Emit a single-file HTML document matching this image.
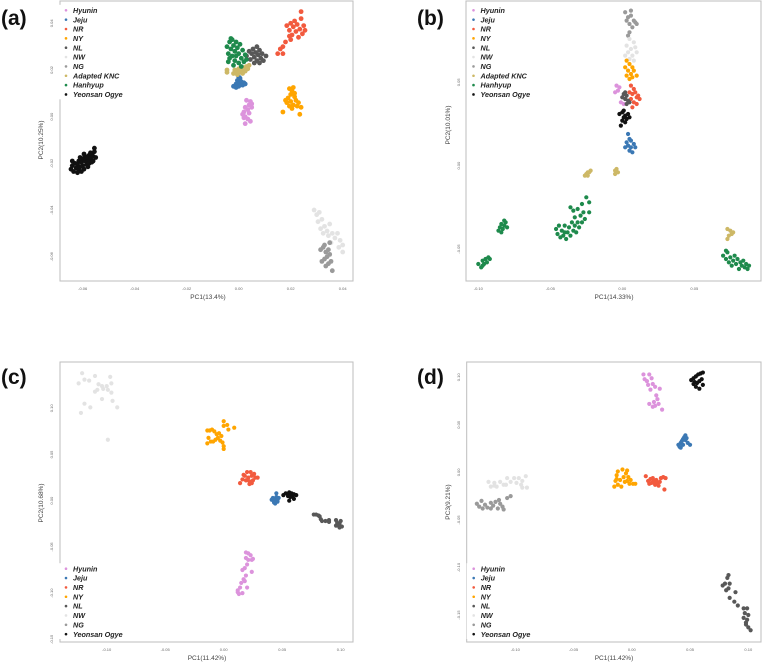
<!DOCTYPE html>
<html><head><meta charset="utf-8"><style>
html,body{margin:0;padding:0;background:#fff;}
svg{display:block;font-family:"Liberation Sans",sans-serif;}
</style></head><body>
<svg id="fig" width="762" height="662" viewBox="0 0 762 662"></svg>
<script>
// ---------- DATA ----------
const groupNames = ["Hyunin","Jeju","NR","NY","NL","NW","NG","Adapted KNC","Hanhyup","Yeonsan Ogye"];
const groupColors = {"Hyunin":"#dc93dc","Jeju":"#3b78b4","NR":"#f25a3e","NY":"#ffa500","NL":"#585858","NW":"#e3e3e3","NG":"#9a9a9a","Adapted KNC":"#cdb866","Hanhyup":"#1e8a4c","Yeonsan Ogye":"#111111"};

const aXTicks = [-0.06,-0.04,-0.02,0,0.02,0.04];
const aXTickLabels = ["-0.06","-0.04","-0.02","0.00","0.02","0.04"];
const aYTicks = [0.04,0.02,0,-0.02,-0.04,-0.06];
const aYTickLabels = ["0.04","0.02","0.00","-0.02","-0.04","-0.06"];
const a_Yeonsan = [[-0.0645,-0.0225],[-0.0640,-0.0210],[-0.0635,-0.0235],[-0.0630,-0.0200],[-0.0625,-0.0220],[-0.0620,-0.0205],[-0.0615,-0.0190],[-0.0615,-0.0230],[-0.0610,-0.0215],[-0.0605,-0.0195],[-0.0600,-0.0180],[-0.0600,-0.0210],[-0.0595,-0.0225],[-0.0590,-0.0190],[-0.0590,-0.0170],[-0.0585,-0.0205],[-0.0580,-0.0185],[-0.0575,-0.0165],[-0.0575,-0.0200],[-0.0570,-0.0180],[-0.0565,-0.0160],[-0.0560,-0.0190],[-0.0560,-0.0170],[-0.0555,-0.0150],[-0.0550,-0.0175],[-0.0555,-0.0135],[-0.0620,-0.0240],[-0.0605,-0.0235],[-0.0585,-0.0175],[-0.0570,-0.0155],[-0.0610,-0.0175],[-0.0595,-0.0160],[-0.0580,-0.0215],[-0.0565,-0.0195],[-0.0640,-0.0190]];
const a_Hanhyup = [[-0.0045,0.0300],[-0.0040,0.0270],[-0.0035,0.0320],[-0.0035,0.0250],[-0.0030,0.0290],[-0.0025,0.0330],[-0.0025,0.0260],[-0.0020,0.0305],[-0.0015,0.0280],[-0.0015,0.0240],[-0.0010,0.0320],[-0.0010,0.0260],[-0.0005,0.0295],[0.0000,0.0230],[0.0000,0.0270],[0.0005,0.0310],[0.0010,0.0250],[0.0015,0.0285],[0.0020,0.0235],[0.0025,0.0265],[-0.0040,0.0235],[-0.0020,0.0220],[0.0010,0.0215],[-0.0030,0.0335],[0.0030,0.0245]];
const a_NL = [[0.0030,0.0260],[0.0040,0.0280],[0.0045,0.0245],[0.0050,0.0270],[0.0055,0.0290],[0.0060,0.0255],[0.0065,0.0275],[0.0070,0.0300],[0.0070,0.0240],[0.0075,0.0265],[0.0080,0.0285],[0.0085,0.0250],[0.0090,0.0270],[0.0095,0.0240],[0.0105,0.0260],[0.0060,0.0230],[0.0080,0.0230]];
const a_KNC = [[-0.0045,0.0200],[-0.0045,0.0190],[-0.0020,0.0185],[-0.0015,0.0200],[-0.0010,0.0190],[0.0000,0.0205],[0.0005,0.0190],[0.0010,0.0200],[0.0020,0.0210],[0.0025,0.0195],[0.0030,0.0215],[0.0035,0.0205],[0.0040,0.0220],[-0.0005,0.0180],[0.0015,0.0185]];
const a_Jeju = [[-0.0020,0.0130],[-0.0010,0.0140],[-0.0005,0.0155],[0.0000,0.0130],[0.0005,0.0165],[0.0005,0.0145],[0.0010,0.0150],[0.0015,0.0135],[0.0020,0.0145],[-0.0010,0.0125],[0.0000,0.0170],[0.0025,0.0140]];
const a_Hyunin = [[0.0030,0.0070],[0.0045,0.0065],[0.0040,0.0050],[0.0025,0.0040],[0.0050,0.0040],[0.0035,0.0030],[0.0020,0.0020],[0.0040,0.0015],[0.0025,0.0000],[0.0035,-0.0010],[0.0020,-0.0005],[0.0045,-0.0020],[0.0025,-0.0030],[0.0050,0.0055],[0.0015,0.0010]];
const a_NR = [[0.0185,0.0390],[0.0195,0.0370],[0.0200,0.0400],[0.0205,0.0350],[0.0210,0.0385],[0.0215,0.0410],[0.0220,0.0365],[0.0225,0.0395],[0.0230,0.0340],[0.0235,0.0375],[0.0240,0.0420],[0.0245,0.0355],[0.0250,0.0390],[0.0255,0.0370],[0.0240,0.0450],[0.0200,0.0330],[0.0180,0.0320],[0.0170,0.0300],[0.0160,0.0290],[0.0150,0.0270],[0.0170,0.0270],[0.0195,0.0345]];
const a_NY = [[0.0195,0.0120],[0.0205,0.0110],[0.0210,0.0125],[0.0200,0.0095],[0.0190,0.0080],[0.0215,0.0085],[0.0220,0.0070],[0.0185,0.0060],[0.0200,0.0065],[0.0230,0.0060],[0.0210,0.0050],[0.0195,0.0045],[0.0225,0.0045],[0.0240,0.0040],[0.0180,0.0070],[0.0170,0.0020],[0.0235,0.0010],[0.0205,0.0035],[0.0215,0.0100]];
const a_NW = [[0.0290,-0.0400],[0.0300,-0.0420],[0.0310,-0.0410],[0.0305,-0.0450],[0.0320,-0.0440],[0.0330,-0.0470],[0.0315,-0.0480],[0.0340,-0.0490],[0.0350,-0.0460],[0.0360,-0.0500],[0.0345,-0.0510],[0.0370,-0.0520],[0.0380,-0.0500],[0.0390,-0.0530],[0.0400,-0.0550],[0.0385,-0.0560],[0.0355,-0.0540],[0.0400,-0.0580],[0.0325,-0.0500]];
const a_NG = [[0.0315,-0.0570],[0.0325,-0.0560],[0.0335,-0.0580],[0.0330,-0.0550],[0.0345,-0.0570],[0.0340,-0.0600],[0.0330,-0.0610],[0.0350,-0.0590],[0.0345,-0.0630],[0.0335,-0.0640],[0.0355,-0.0620],[0.0360,-0.0660],[0.0320,-0.0620],[0.0350,-0.0540]];

const bXTicks = [-0.10,-0.05,0,0.05];
const bXTickLabels = ["-0.10","-0.05","0.00","0.05"];
const bYTicks = [0.05,0,-0.05];
const bYTickLabels = ["0.05","0.00","-0.05"];
const b_NG = [[0.002,0.092],[0.004,0.089],[0.006,0.090],[0.008,0.087],[0.005,0.085],[0.010,0.085],[0.003,0.087],[0.007,0.083],[0.009,0.086],[0.006,0.093],[0.005,0.080],[0.004,0.078]];
const b_NW = [[0.005,0.076],[0.008,0.074],[0.003,0.072],[0.006,0.070],[0.009,0.071],[0.004,0.068],[0.007,0.066],[0.010,0.068],[0.005,0.064],[0.008,0.063],[0.002,0.066]];
const b_NY = [[0.003,0.063],[0.005,0.061],[0.007,0.059],[0.004,0.057],[0.006,0.055],[0.008,0.057],[0.003,0.054],[0.005,0.052],[0.010,0.054],[0.002,0.059],[0.007,0.053]];
const b_Hyunin = [[-0.004,0.048],[-0.003,0.045],[-0.005,0.044],[-0.002,0.047],[0.000,0.041],[-0.001,0.038],[0.001,0.037]];
const b_NR = [[0.006,0.048],[0.008,0.046],[0.007,0.043],[0.009,0.044],[0.010,0.041],[0.011,0.042],[0.006,0.040],[0.008,0.038],[0.010,0.037],[0.007,0.035],[0.005,0.044],[0.012,0.040]];
const b_NL = [[0.001,0.043],[0.003,0.042],[0.002,0.040],[0.004,0.039],[0.000,0.041],[0.005,0.038],[0.003,0.037],[0.002,0.044]];
const b_Yeonsan = [[-0.002,0.031],[0.000,0.032],[0.002,0.030],[0.004,0.031],[0.001,0.029],[0.003,0.028],[0.005,0.029],[0.000,0.027],[0.002,0.026],[-0.001,0.024],[0.001,0.033]];
const b_Jeju = [[0.004,0.019],[0.005,0.016],[0.003,0.014],[0.006,0.015],[0.008,0.013],[0.004,0.012],[0.006,0.011],[0.009,0.011],[0.005,0.009],[0.007,0.008],[0.002,0.011]];
const b_KNC = [[-0.026,-0.006],[-0.025,-0.005],[-0.024,-0.004],[-0.023,-0.004],[-0.022,-0.003],[-0.024,-0.006],[-0.005,-0.003],[-0.004,-0.002],[-0.003,-0.004],[-0.005,-0.005],[-0.004,-0.004],[0.073,-0.038],[0.075,-0.039],[0.076,-0.041],[0.074,-0.042],[0.077,-0.040],[0.073,-0.044]];
const b_Hanhyup = [[-0.100,-0.059],[-0.098,-0.061],[-0.097,-0.057],[-0.096,-0.059],[-0.095,-0.056],[-0.094,-0.058],[-0.093,-0.055],[-0.097,-0.060],[-0.092,-0.056],[-0.086,-0.039],[-0.085,-0.037],[-0.084,-0.035],[-0.083,-0.038],[-0.082,-0.036],[-0.081,-0.034],[-0.080,-0.037],[-0.084,-0.040],[-0.082,-0.033],[-0.046,-0.038],[-0.045,-0.041],[-0.043,-0.043],[-0.042,-0.039],[-0.041,-0.042],[-0.040,-0.036],[-0.039,-0.044],[-0.038,-0.040],[-0.037,-0.037],[-0.036,-0.042],[-0.035,-0.034],[-0.034,-0.039],[-0.033,-0.036],[-0.033,-0.031],[-0.032,-0.040],[-0.031,-0.034],[-0.030,-0.037],[-0.029,-0.030],[-0.028,-0.034],[-0.027,-0.028],[-0.026,-0.032],[-0.034,-0.027],[-0.036,-0.025],[-0.031,-0.026],[-0.028,-0.023],[-0.025,-0.019],[-0.023,-0.022],[-0.023,-0.028],[-0.044,-0.036],[-0.040,-0.040],[0.070,-0.054],[0.072,-0.056],[0.073,-0.052],[0.074,-0.058],[0.075,-0.055],[0.077,-0.057],[0.078,-0.054],[0.079,-0.059],[0.080,-0.056],[0.082,-0.058],[0.083,-0.060],[0.084,-0.057],[0.085,-0.061],[0.086,-0.059],[0.087,-0.062],[0.081,-0.062],[0.076,-0.060],[0.088,-0.060],[0.072,-0.051]];

const cdXTicks = [-0.10,-0.05,0,0.05,0.10];
const cdXTickLabels = ["-0.10","-0.05","0.00","0.05","0.10"];
const cdYTicks = [0.10,0.05,0,-0.05,-0.10,-0.15];
const cdYTickLabels = ["0.10","0.05","0.00","-0.05","-0.10","-0.15"];
const c_NW = [[-0.121,0.138],[-0.124,0.127],[-0.119,0.131],[-0.115,0.130],[-0.110,0.135],[-0.107,0.126],[-0.104,0.124],[-0.100,0.124],[-0.097,0.134],[-0.096,0.127],[-0.099,0.120],[-0.103,0.121],[-0.110,0.118],[-0.096,0.117],[-0.104,0.110],[-0.095,0.108],[-0.119,0.105],[-0.114,0.101],[-0.091,0.101],[-0.122,0.095],[-0.099,0.066],[-0.108,0.120]];
const c_NY = [[-0.014,0.076],[-0.012,0.076],[-0.010,0.077],[-0.008,0.075],[-0.006,0.072],[-0.004,0.073],[-0.013,0.068],[-0.011,0.064],[-0.014,0.062],[-0.007,0.066],[-0.005,0.068],[-0.003,0.065],[-0.001,0.063],[0.000,0.059],[0.000,0.056],[-0.002,0.070],[0.000,0.086],[0.000,0.081],[0.003,0.082],[0.004,0.077],[0.009,0.079],[-0.009,0.064]];
const c_NR = [[0.014,0.019],[0.016,0.023],[0.018,0.027],[0.019,0.022],[0.020,0.031],[0.021,0.025],[0.022,0.018],[0.023,0.031],[0.024,0.027],[0.025,0.022],[0.026,0.029],[0.027,0.025],[0.029,0.025],[0.022,0.021],[0.024,0.019],[0.017,0.028]];
const c_Jeju = [[0.041,0.001],[0.042,0.003],[0.043,0.000],[0.044,0.002],[0.045,0.004],[0.046,0.001],[0.047,0.003],[0.044,-0.003],[0.046,-0.001],[0.045,0.008],[0.043,-0.002]];
const c_Yeonsan = [[0.051,0.006],[0.053,0.008],[0.055,0.007],[0.056,0.009],[0.057,0.006],[0.058,0.008],[0.059,0.005],[0.060,0.007],[0.062,0.006],[0.057,0.004],[0.055,0.005],[0.056,0.000],[0.060,0.002]];
const c_NL = [[0.077,-0.015],[0.079,-0.015],[0.081,-0.016],[0.082,-0.017],[0.083,-0.020],[0.084,-0.022],[0.087,-0.022],[0.090,-0.021],[0.090,-0.023],[0.096,-0.021],[0.097,-0.024],[0.099,-0.025],[0.100,-0.022],[0.101,-0.028],[0.099,-0.029],[0.096,-0.027],[0.098,-0.027]];
const c_Hyunin = [[0.019,-0.056],[0.021,-0.057],[0.023,-0.059],[0.019,-0.062],[0.021,-0.064],[0.024,-0.064],[0.025,-0.063],[0.020,-0.069],[0.018,-0.073],[0.024,-0.077],[0.016,-0.075],[0.019,-0.081],[0.017,-0.085],[0.015,-0.089],[0.018,-0.087],[0.014,-0.094],[0.020,-0.094],[0.012,-0.097],[0.016,-0.100],[0.013,-0.101],[0.012,-0.099]];

const d_Hyunin = [[0.010,0.103],[0.015,0.103],[0.011,0.098],[0.013,0.096],[0.017,0.099],[0.018,0.093],[0.014,0.092],[0.020,0.090],[0.024,0.088],[0.016,0.087],[0.021,0.081],[0.022,0.077],[0.019,0.074],[0.023,0.072],[0.015,0.072],[0.018,0.069],[0.020,0.070],[0.026,0.066]];
const d_Yeonsan = [[0.051,0.097],[0.053,0.099],[0.055,0.101],[0.057,0.103],[0.059,0.104],[0.061,0.105],[0.054,0.095],[0.056,0.094],[0.058,0.096],[0.060,0.098],[0.055,0.090],[0.058,0.088],[0.061,0.092],[0.053,0.093]];
const d_Jeju = [[0.040,0.029],[0.041,0.027],[0.042,0.031],[0.043,0.033],[0.044,0.035],[0.045,0.037],[0.046,0.034],[0.047,0.036],[0.048,0.031],[0.044,0.029],[0.050,0.029],[0.042,0.026],[0.046,0.039]];
const d_NY = [[-0.015,-0.015],[-0.014,-0.009],[-0.013,-0.003],[-0.012,0.001],[-0.012,-0.013],[-0.010,-0.008],[-0.009,-0.015],[-0.008,0.003],[-0.007,-0.005],[-0.006,-0.010],[-0.005,-0.001],[-0.004,-0.009],[-0.003,-0.005],[-0.002,-0.012],[-0.001,-0.008],[0.001,-0.012],[0.003,-0.012],[-0.004,0.002],[-0.013,-0.007]];
const d_NR = [[0.012,-0.004],[0.014,-0.009],[0.016,-0.007],[0.017,-0.011],[0.018,-0.006],[0.019,-0.009],[0.020,-0.013],[0.021,-0.008],[0.022,-0.011],[0.023,-0.014],[0.024,-0.010],[0.025,-0.006],[0.027,-0.005],[0.029,-0.006],[0.028,-0.018],[0.019,-0.010],[0.015,-0.012]];
const d_NW = [[-0.123,-0.010],[-0.121,-0.015],[-0.118,-0.011],[-0.116,-0.015],[-0.113,-0.010],[-0.110,-0.013],[-0.107,-0.006],[-0.104,-0.010],[-0.101,-0.006],[-0.099,-0.011],[-0.097,-0.006],[-0.094,-0.009],[-0.091,-0.004],[-0.090,-0.016],[-0.094,-0.016],[-0.108,-0.013],[-0.118,-0.014],[-0.095,-0.013]];
const d_NG = [[-0.133,-0.033],[-0.131,-0.036],[-0.128,-0.038],[-0.126,-0.034],[-0.124,-0.037],[-0.121,-0.032],[-0.119,-0.035],[-0.117,-0.031],[-0.115,-0.038],[-0.113,-0.033],[-0.111,-0.036],[-0.114,-0.029],[-0.110,-0.039],[-0.107,-0.027],[-0.104,-0.025],[-0.121,-0.038],[-0.129,-0.030]];
const d_NL = [[0.083,-0.108],[0.082,-0.111],[0.080,-0.117],[0.078,-0.119],[0.084,-0.117],[0.083,-0.122],[0.081,-0.124],[0.089,-0.126],[0.084,-0.132],[0.088,-0.136],[0.091,-0.140],[0.096,-0.143],[0.099,-0.143],[0.097,-0.148],[0.100,-0.150],[0.096,-0.153],[0.099,-0.155],[0.098,-0.158],[0.100,-0.163],[0.102,-0.166],[0.098,-0.160]];

// ---------- LAYOUT ----------
const panels = [
 {id:"a", box:[60,1,353,281], xa:[-0.06,82.7,0.04,342.7], ya:[0.04,23.3,-0.06,256.7],
  xt:aXTicks, xtl:aXTickLabels, yt:aYTicks, ytl:aYTickLabels, r:2.4,
  xtY:290, ytX:53, xTitle:"PC1(13.4%)", xTitlePos:[208,299], yTitle:"PC2(10.25%)", yTitlePos:[43,140],
  tag:[1,25], leg:[66,10.3], legItems:groupNames,
  series:[["NW",a_NW],["NG",a_NG],["NR",a_NR],["NY",a_NY],["Hyunin",a_Hyunin],["Jeju",a_Jeju],["Adapted KNC",a_KNC],["NL",a_NL],["Hanhyup",a_Hanhyup],["Yeonsan Ogye",a_Yeonsan]]},
 {id:"b", box:[466,1,761,281], xa:[-0.10,478.3,0.05,694.3], ya:[0.05,82.3,-0.05,249],
  xt:bXTicks, xtl:bXTickLabels, yt:bYTicks, ytl:bYTickLabels, r:2.1,
  xtY:290, ytX:460, xTitle:"PC1(14.33%)", xTitlePos:[614,299], yTitle:"PC2(10.01%)", yTitlePos:[450,125],
  tag:[417,25], leg:[473.5,10.3], legItems:groupNames,
  series:[["NG",b_NG],["NW",b_NW],["NY",b_NY],["Hyunin",b_Hyunin],["NR",b_NR],["NL",b_NL],["Yeonsan Ogye",b_Yeonsan],["Jeju",b_Jeju],["Adapted KNC",b_KNC],["Hanhyup",b_Hanhyup]]},
 {id:"c", box:[60,362,353,642], xa:[-0.10,106.7,0.10,340.7], ya:[0.10,408.3,-0.15,639.3],
  xt:cdXTicks, xtl:cdXTickLabels, yt:cdYTicks, ytl:cdYTickLabels, r:2.1,
  xtY:651, ytX:53, xTitle:"PC1(11.42%)", xTitlePos:[207,660], yTitle:"PC2(10.68%)", yTitlePos:[43,503],
  tag:[1,384], leg:[66,568.7], legItems:["Hyunin","Jeju","NR","NY","NL","NW","NG","Yeonsan Ogye"],
  series:[["NW",c_NW],["NY",c_NY],["NR",c_NR],["Jeju",c_Jeju],["Yeonsan Ogye",c_Yeonsan],["NL",c_NL],["Hyunin",c_Hyunin]]},
 {id:"d", box:[466.7,362,761,642], xa:[-0.10,515.3,0.10,748.3], ya:[0.10,377.3,-0.15,615],
  xt:cdXTicks, xtl:cdXTickLabels, yt:cdYTicks, ytl:cdYTickLabels, r:2.1,
  xtY:651, ytX:460, xTitle:"PC1(11.42%)", xTitlePos:[614,660], yTitle:"PC3(9.21%)", yTitlePos:[450,502],
  tag:[417,384], leg:[473.7,568.7], legItems:["Hyunin","Jeju","NR","NY","NL","NW","NG","Yeonsan Ogye"],
  series:[["Hyunin",d_Hyunin],["Yeonsan Ogye",d_Yeonsan],["Jeju",d_Jeju],["NY",d_NY],["NR",d_NR],["NW",d_NW],["NG",d_NG],["NL",d_NL]]}
];

const NS="http://www.w3.org/2000/svg";
const svg=document.getElementById("fig");
function mk(tag,attrs,parent){const e=document.createElementNS(NS,tag);for(const k in attrs)e.setAttribute(k,attrs[k]);(parent||svg).appendChild(e);return e;}
function slug(s){return s.toLowerCase().replace(/\s+/g,"-");}

panels.forEach(p=>{
  const g=mk("g",{});
  
  
  const xs=v=>p.xa[1]+(v-p.xa[0])*(p.xa[3]-p.xa[1])/(p.xa[2]-p.xa[0]);
  const ys=v=>p.ya[1]+(v-p.ya[0])*(p.ya[3]-p.ya[1])/(p.ya[2]-p.ya[0]);
  const [x0,y0,x1,y1]=p.box;
  const fr=mk("rect",{x:x0,y:y0,width:x1-x0,height:y1-y0,fill:"#fff",stroke:"#bdbdbd","stroke-width":1},g);
  
  
  // tick labels
  p.xt.forEach((v,i)=>{
    const t=mk("text",{x:xs(v),y:p.xtY,"font-size":4,fill:"#666","text-anchor":"middle"},g);
    t.textContent=p.xtl[i];
    
    
  });
  p.yt.forEach((v,i)=>{
    const yy=ys(v);
    const t=mk("text",{x:p.ytX,y:yy,"font-size":4,fill:"#666","text-anchor":"middle",transform:`rotate(-90 ${p.ytX} ${yy})`},g);
    t.textContent=p.ytl[i];
    
    
  });
  const xt=mk("text",{x:p.xTitlePos[0],y:p.xTitlePos[1],"font-size":6.5,fill:"#444","text-anchor":"middle"},g);
  xt.textContent=p.xTitle;
  
  
  const yt=mk("text",{x:p.yTitlePos[0],y:p.yTitlePos[1],"font-size":6.5,fill:"#444","text-anchor":"middle",transform:`rotate(-90 ${p.yTitlePos[0]} ${p.yTitlePos[1]})`},g);
  yt.textContent=p.yTitle;
  
  
  // points
  p.series.forEach(([name,pts])=>{
    const sg=mk("g",{fill:groupColors[name]},g);
    
    
    pts.forEach(pt=>{
      const c=mk("circle",{cx:xs(pt[0]),cy:ys(pt[1]),r:p.r},sg);
      
      
    });
  });
  // legend
  const lg=mk("g",{},g);
  
  
  const bg=mk("rect",{x:p.leg[0]-7,y:p.leg[1]-5.5,width:70,height:p.legItems.length*9.35+1,fill:"#fff"},lg);
  p.legItems.forEach((name,i)=>{
    const yy=p.leg[1]+i*9.35;
    const e=mk("g",{},lg);
    
    
    mk("circle",{cx:p.leg[0],cy:yy,r:1.3,fill:groupColors[name]},e);
    const t=mk("text",{x:p.leg[0]+7,y:yy+2.6,"font-size":7.2,"font-weight":"bold","font-style":"italic",fill:"#222"},e);
    t.textContent=name;
  });
  const tag=mk("text",{x:p.tag[0],y:p.tag[1],"font-size":21,"font-weight":"bold",fill:"#111"},g);
  tag.textContent="("+p.id+")";
  
  
});
</script>
</body></html>
